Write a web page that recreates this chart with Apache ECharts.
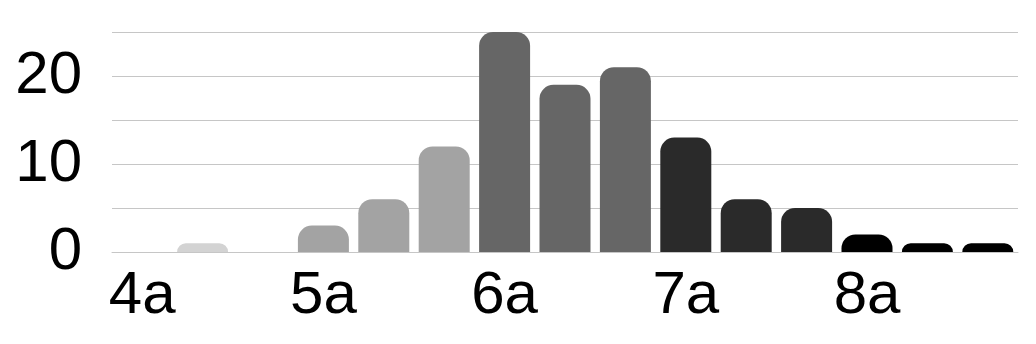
<!DOCTYPE html>
<html>
<head>
<meta charset="utf-8">
<script src="https://cdn.jsdelivr.net/npm/echarts@6/dist/echarts.min.js"></script>
<style>html,body{margin:0;padding:0;background:#fff;}#c{width:1036px;height:344px;}</style>
</head>
<body>
<div id="c"></div>
<script>
const categories = ['4a','4b','4c','5a','5b','5c','6a','6b','6c','7a','7b','7c','8a','8b','8c'];
const counts = [0,1,0,3,6,12,25,19,21,13,6,5,2,1,1];
const gradeColors = {'4':'#d3d3d3','5':'#a3a3a3','6':'#666666','7':'#2a2a2a','8':'#000000'};

const chart = echarts.init(document.getElementById('c'), null, {renderer:'canvas'});
chart.setOption({
  animation: false,
  grid: {left: 112, right: 18, top: 32, bottom: 92},
  xAxis: {
    type: 'category',
    data: categories,
    axisTick: {show: false},
    axisLine: {show: true, lineStyle: {color: '#c6c6c6', width: 1}},
    axisLabel: {
      interval: 2,
      color: '#000',
      fontFamily: 'Liberation Sans',
      fontSize: 60,
      margin: 14
    }
  },
  yAxis: {
    type: 'value',
    min: 0, max: 25, interval: 5,
    axisLine: {show: false},
    axisTick: {show: false},
    splitLine: {lineStyle: {color: '#c6c6c6', width: 1}},
    axisLabel: {
      color: '#000',
      fontFamily: 'Liberation Sans',
      fontSize: 60,
      margin: 30,
      formatter: v => (v % 10 === 0 ? String(v) : '')
    }
  },
  series: [{
    type: 'bar',
    barWidth: 51,
    data: counts.map((v, i) => ({
      value: v,
      itemStyle: {color: gradeColors[categories[i][0]], borderRadius: [14,14,0,0]}
    }))
  }]
});
</script>
</body>
</html>
